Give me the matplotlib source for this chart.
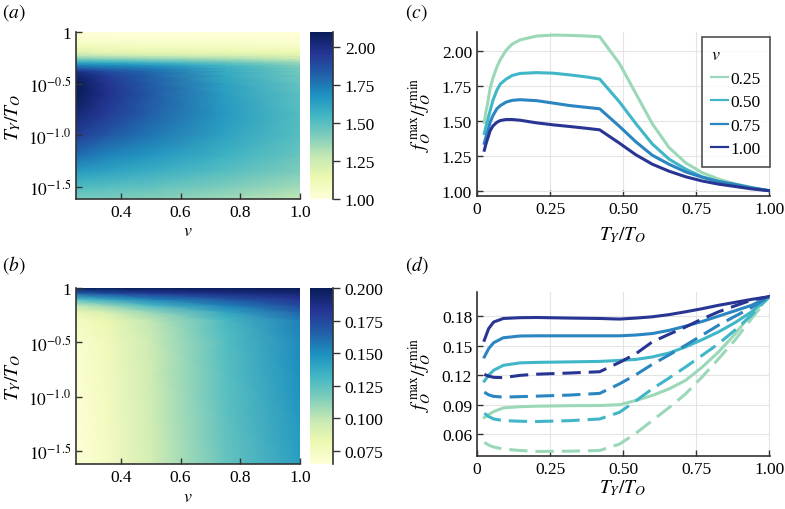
import matplotlib
matplotlib.use('Agg')
import matplotlib.pyplot as plt
import numpy as np

plt.rcParams['font.family'] = ['Liberation Serif', 'DejaVu Serif']
plt.rcParams['mathtext.fontset'] = 'stix'
plt.rcParams['font.size'] = 12.5

# ---- heatmap (a): f_O^max / f_O^min over (v, log10 T_Y/T_O)
heat_v = [0.25, 0.35, 0.5, 0.75, 1.0]
heat_a_logT = [-1.62, -1.5, -1.35, -1.2, -1.0, -0.8, -0.6, -0.5, -0.42, -0.38,
               -0.35, -0.32, -0.29, -0.26, -0.23, -0.2, -0.15, -0.1, -0.05, 0.0]
heat_a_v025 = [1.42, 1.52, 1.65, 1.78, 1.93, 2.03, 2.10, 2.10, 2.05, 1.98,
               1.82, 1.72, 1.58, 1.42, 1.30, 1.20, 1.12, 1.06, 1.03, 1.00]
heat_a_v035 = [1.42, 1.50, 1.62, 1.72, 1.85, 1.94, 1.98, 1.97, 1.93, 1.88,
               1.78, 1.70, 1.56, 1.40, 1.28, 1.18, 1.10, 1.06, 1.03, 1.00]
heat_a_v050 = [1.40, 1.48, 1.58, 1.66, 1.76, 1.82, 1.84, 1.83, 1.81, 1.79,
               1.74, 1.66, 1.52, 1.38, 1.26, 1.17, 1.10, 1.05, 1.02, 1.00]
heat_a_v075 = [1.35, 1.42, 1.50, 1.56, 1.62, 1.65, 1.64, 1.62, 1.60, 1.59,
               1.58, 1.54, 1.45, 1.34, 1.24, 1.16, 1.09, 1.05, 1.02, 1.00]
heat_a_v100 = [1.28, 1.35, 1.42, 1.46, 1.50, 1.51, 1.49, 1.47, 1.45, 1.44,
               1.43, 1.40, 1.35, 1.27, 1.20, 1.14, 1.08, 1.04, 1.02, 1.00]

# ---- heatmap (b)
heat_b_logT = [-1.62, -1.2, -0.8, -0.5, -0.3, -0.22, -0.16, -0.1, -0.05, 0.0]
heat_b_v025 = [0.066, 0.067, 0.068, 0.069, 0.075, 0.085, 0.100, 0.130, 0.165, 0.198]
heat_b_v035 = [0.074, 0.075, 0.076, 0.077, 0.082, 0.092, 0.110, 0.140, 0.172, 0.199]
heat_b_v050 = [0.093, 0.094, 0.095, 0.096, 0.100, 0.110, 0.130, 0.155, 0.180, 0.200]
heat_b_v075 = [0.122, 0.124, 0.126, 0.127, 0.130, 0.140, 0.155, 0.170, 0.187, 0.200]
heat_b_v100 = [0.143, 0.146, 0.149, 0.151, 0.155, 0.165, 0.175, 0.183, 0.192, 0.200]

# ---- panel (c) curves
c_x = [0.025, 0.03, 0.036, 0.045, 0.055, 0.068, 0.08, 0.10, 0.12, 0.147, 0.204, 0.26,
       0.317, 0.375, 0.42, 0.488, 0.544, 0.60, 0.657, 0.714, 0.77, 0.827, 0.884,
       0.94, 1.0]
c_v025 = [1.49, 1.56, 1.62, 1.735, 1.81, 1.887, 1.94, 2.007, 2.05, 2.08, 2.108, 2.115,
          2.113, 2.108, 2.103, 1.91, 1.695, 1.48, 1.31, 1.20, 1.13, 1.083, 1.048,
          1.024, 1.0]
c_v050 = [1.41, 1.455, 1.50, 1.575, 1.65, 1.72, 1.765, 1.80, 1.825, 1.84, 1.846, 1.842,
          1.83, 1.815, 1.80, 1.635, 1.48, 1.335, 1.227, 1.155, 1.10, 1.065, 1.04,
          1.02, 1.0]
c_v075 = [1.34, 1.38, 1.42, 1.49, 1.54, 1.587, 1.61, 1.635, 1.647, 1.652, 1.645, 1.628,
          1.61, 1.597, 1.587, 1.46, 1.35, 1.254, 1.19, 1.135, 1.097, 1.066, 1.045,
          1.02, 1.0]
c_v100 = [1.29, 1.33, 1.37, 1.43, 1.465, 1.49, 1.503, 1.51, 1.51, 1.505, 1.486, 1.472,
          1.46, 1.447, 1.436, 1.34, 1.257, 1.19, 1.14, 1.10, 1.07, 1.047, 1.03,
          1.013, 1.0]

# ---- panel (d) curves (solid and dashed)
d_x = [0.025, 0.04, 0.057, 0.09, 0.147, 0.204, 0.317, 0.42, 0.488, 0.544, 0.6,
       0.657, 0.714, 0.77, 0.827, 0.884, 0.94, 1.0]
d_solid_v100 = [0.1555, 0.1674, 0.174, 0.1776, 0.1784, 0.1786, 0.178, 0.1776, 0.177,
                0.178, 0.1793, 0.1815, 0.1844, 0.1875, 0.191, 0.194, 0.197, 0.1997]
d_solid_v075 = [0.1385, 0.147, 0.153, 0.158, 0.1598, 0.160, 0.160, 0.160, 0.160,
                0.1608, 0.1623, 0.1655, 0.1698, 0.1745, 0.180, 0.1855, 0.191, 0.1997]
d_solid_v050 = [0.114, 0.120, 0.125, 0.130, 0.1325, 0.133, 0.1335, 0.134, 0.135,
                0.136, 0.1385, 0.1425, 0.1487, 0.156, 0.164, 0.1735, 0.1844, 0.1997]
d_solid_v025 = [0.077, 0.080, 0.083, 0.0867, 0.088, 0.0885, 0.089, 0.0892, 0.090,
                0.0943, 0.0994, 0.106, 0.1147, 0.128, 0.1436, 0.162, 0.1827, 0.1997]
d_dash_v100 = [0.1208, 0.119, 0.1178, 0.1175, 0.1198, 0.121, 0.1222, 0.1235, 0.133,
               0.1418, 0.1538, 0.1615, 0.169, 0.177, 0.1844, 0.1905, 0.1963, 0.1997]
d_dash_v075 = [0.1027, 0.100, 0.0985, 0.0977, 0.0982, 0.0987, 0.0998, 0.1015, 0.1112,
               0.1205, 0.131, 0.1405, 0.1504, 0.1605, 0.1708, 0.180, 0.1888, 0.1997]
d_dash_v050 = [0.0813, 0.078, 0.0755, 0.0739, 0.0732, 0.0729, 0.0738, 0.0755, 0.0823,
               0.094, 0.1061, 0.117, 0.1283, 0.140, 0.152, 0.166, 0.181, 0.1997]
d_dash_v025 = [0.0517, 0.049, 0.047, 0.045, 0.0435, 0.0425, 0.0428, 0.0435, 0.050,
               0.061, 0.0739, 0.087, 0.101, 0.118, 0.1367, 0.156, 0.1776, 0.1997]

v_labels = ['0.25', '0.50', '0.75', '1.00']
line_colors = ['#9bd8b8', '#41b6c8', '#2b85c0', '#283593']

W, H = 785, 510
fig = plt.figure(figsize=(W / 100, H / 100), dpi=100)


def box(x0, y0, x1, y1):
    # pixel box (top-left origin) -> figure fraction rect
    return [x0 / W, 1 - y1 / H, (x1 - x0) / W, (y1 - y0) / H]


def style_axes(ax):
    for s in ['top', 'right']:
        ax.spines[s].set_visible(False)
    for s in ['left', 'bottom']:
        ax.spines[s].set_color('#333333')
        ax.spines[s].set_linewidth(1.2)
    ax.tick_params(direction='in', length=4, width=1, color='#333333')


def heatmap(rect, crect, logT, cols, vmin, vmax, cticks, cfmt):
    ax = fig.add_axes(box(*rect))
    cax = fig.add_axes(box(*crect))
    Z = np.array(cols).T
    X, Y = np.meshgrid(heat_v, logT)
    m = ax.pcolormesh(X, Y, Z, shading='gouraud', cmap='YlGnBu', vmin=vmin, vmax=vmax)
    ax.set_xlim(0.25, 1.0)
    ax.set_ylim(-1.62, 0)
    ax.set_xticks([0.4, 0.6, 0.8, 1.0])
    ax.set_xticklabels(['0.4', '0.6', '0.8', '1.0'])
    ax.set_yticks([0, -0.5, -1.0, -1.5])
    ax.set_yticklabels(['1', '$10^{-0.5}$', '$10^{-1.0}$', '$10^{-1.5}$'])
    style_axes(ax)
    cb = fig.colorbar(m, cax=cax)
    cb.outline.set_visible(False)
    cax.spines['right'].set_visible(True)
    cax.spines['right'].set_color('#333333')
    cax.spines['right'].set_linewidth(1.2)
    cb.set_ticks(cticks)
    cb.set_ticklabels([cfmt % t for t in cticks])
    cax.tick_params(direction='out', length=5, width=1, color='#333333')
    return ax


heatmap((76, 33, 300, 200), (310, 33, 333, 200), heat_a_logT,
        [heat_a_v025, heat_a_v035, heat_a_v050, heat_a_v075, heat_a_v100],
        1.0, 2.1, [1.0, 1.25, 1.5, 1.75, 2.0], '%.2f')
heatmap((76, 289, 300, 465), (310, 289, 333, 465), heat_b_logT,
        [heat_b_v025, heat_b_v035, heat_b_v050, heat_b_v075, heat_b_v100],
        0.0647, 0.2, [0.075, 0.1, 0.125, 0.15, 0.175, 0.2], '%.3f')

# panel (c)
ax_c = fig.add_axes(box(477, 33, 770, 197))
for ys, col, lab in zip([c_v025, c_v050, c_v075, c_v100], line_colors, v_labels):
    ax_c.plot(c_x, ys, color=col, lw=2.2, label=lab)
ax_c.set_xlim(0, 1.003)
ax_c.set_ylim(0.962, 2.137)
ax_c.set_yticks([1.0, 1.25, 1.5, 1.75, 2.0])
ax_c.set_yticklabels(['1.00', '1.25', '1.50', '1.75', '2.00'])
leg = ax_c.legend(title='$v$', loc='upper right', bbox_to_anchor=(1.0, 0.97),
                  borderaxespad=0, frameon=True, fancybox=False, handlelength=1.0,
                  handletextpad=0.1, labelspacing=0.42, borderpad=0.55,
                  alignment='left', fontsize=12.5, title_fontsize=13)
leg.get_frame().set_edgecolor('#222222')
leg.get_frame().set_linewidth(1.2)
for l in leg.get_lines():
    l.set_linewidth(1.6)

# panel (d)
ax_d = fig.add_axes(box(477, 293, 770, 457))
solids = [d_solid_v025, d_solid_v050, d_solid_v075, d_solid_v100]
dashes = [d_dash_v025, d_dash_v050, d_dash_v075, d_dash_v100]
for ys, col in zip(solids, line_colors):
    ax_d.plot(d_x, ys, color=col, lw=2.2)
for ys, col in zip(dashes, line_colors):
    ax_d.plot(d_x, ys, color=col, lw=2.2, dashes=(6, 2.6))
ax_d.set_xlim(0, 1.003)
ax_d.set_ylim(0.0379, 0.2045)
ax_d.set_yticks([0.06, 0.09, 0.12, 0.15, 0.18])
ax_d.set_yticklabels(['0.06', '0.09', '0.12', '0.15', '0.18'])

for ax in [ax_c, ax_d]:
    ax.set_xticks([0, 0.25, 0.5, 0.75, 1.0])
    ax.set_xticklabels(['0', '0.25', '0.50', '0.75', '1.00'])
    ax.grid(True, color='#e4e4e4', lw=0.8)
    ax.set_axisbelow(True)
    style_axes(ax)

# panel tags and axis labels
for txt, x, y in [('a', 2, 13), ('b', 2, 265), ('c', 405, 13), ('d', 405, 265)]:
    fig.text(x / W, 1 - y / H, '$(%s)$' % txt, fontsize=14, va='center', ha='left')

fig.text(188 / W, 1 - 232 / H, '$v$', ha='center', va='center', fontsize=13)
fig.text(188 / W, 1 - 498 / H, '$v$', ha='center', va='center', fontsize=13)
fig.text(13 / W, 1 - 117 / H, '$T_Y/T_O$', rotation=90, ha='center', va='center', fontsize=14)
fig.text(13 / W, 1 - 377 / H, '$T_Y/T_O$', rotation=90, ha='center', va='center', fontsize=14)
fig.text(623 / W, 1 - 235 / H, '$T_Y/T_O$', ha='center', va='center', fontsize=14)
fig.text(623 / W, 1 - 488 / H, '$T_Y/T_O$', ha='center', va='center', fontsize=14)
fig.text(420 / W, 1 - 115 / H, r'$f_O^{\,\max}/f_O^{\,\min}$', rotation=90,
         ha='center', va='center', fontsize=14)
fig.text(420 / W, 1 - 375 / H, r'$f_O^{\,\max}/f_O^{\,\min}$', rotation=90,
         ha='center', va='center', fontsize=14)

fig.savefig('out.png', dpi=100)
